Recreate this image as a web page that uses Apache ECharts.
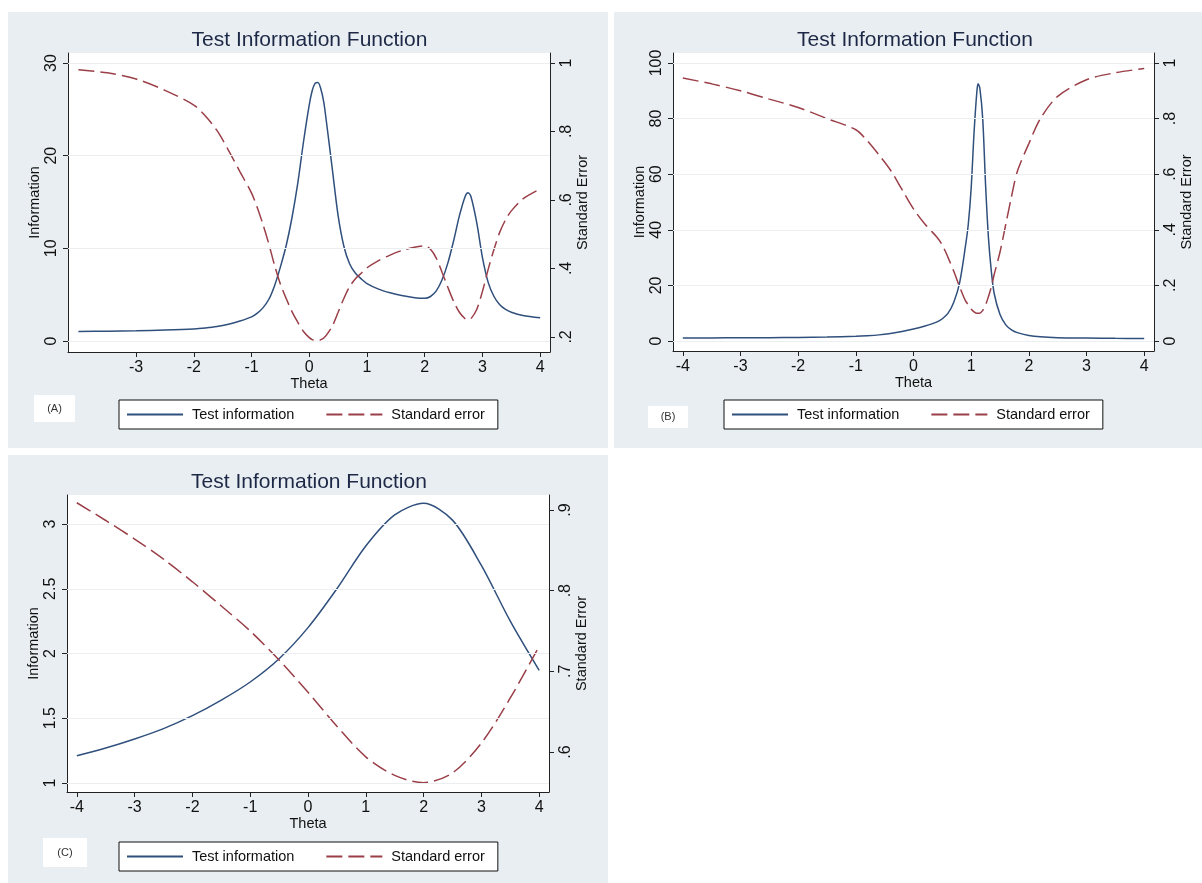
<!DOCTYPE html>
<html>
<head>
<meta charset="utf-8">
<script src="https://cdn.jsdelivr.net/npm/echarts@6/dist/echarts.min.js"></script>
<style>
html,body{margin:0;padding:0;background:#fff;}
#chart{width:1202px;height:883px;}
</style>
</head>
<body>
<div id="chart"></div>
<script>
// ---------- DATA ----------
const seriesNames = ['Test information', 'Standard error'];
const titleText = 'Test Information Function';
const panelLabels = ['(A)', '(B)', '(C)'];

// Panel A
const thetaA = [-4, -3.5, -3, -2.5, -2, -1.8, -1.6, -1.4, -1.2, -1.0, -0.9, -0.8, -0.7, -0.6, -0.5, -0.4, -0.3, -0.2, -0.1, 0, 0.05, 0.1, 0.15, 0.2, 0.25, 0.3, 0.4, 0.5, 0.6, 0.7, 0.8, 0.9, 1.0, 1.2, 1.4, 1.6, 1.8, 2.0, 2.1, 2.2, 2.3, 2.4, 2.5, 2.6, 2.7, 2.75, 2.8, 2.9, 3.0, 3.1, 3.2, 3.3, 3.4, 3.5, 3.7, 4.0];
const infoA = [1.03, 1.06, 1.1, 1.18, 1.3, 1.4, 1.55, 1.8, 2.15, 2.6, 3.0, 3.6, 4.5, 6.0, 8.0, 10.3, 13.3, 17.0, 21.5, 25.5, 27.0, 27.8, 27.9, 27.2, 25.8, 23.5, 18.5, 13.5, 10.2, 8.3, 7.3, 6.7, 6.2, 5.6, 5.2, 4.9, 4.7, 4.6, 4.8, 5.4, 6.6, 8.4, 10.8, 13.5, 15.6, 16.0, 15.6, 12.8, 9.0, 6.3, 4.8, 3.9, 3.4, 3.1, 2.75, 2.5];
const seA = [0.98, 0.971, 0.953, 0.92, 0.877, 0.845, 0.803, 0.745, 0.682, 0.62, 0.577, 0.527, 0.471, 0.408, 0.354, 0.312, 0.274, 0.243, 0.216, 0.198, 0.192, 0.19, 0.189, 0.192, 0.197, 0.206, 0.232, 0.272, 0.313, 0.347, 0.37, 0.386, 0.402, 0.423, 0.439, 0.452, 0.461, 0.466, 0.456, 0.43, 0.389, 0.345, 0.304, 0.272, 0.253, 0.25, 0.253, 0.28, 0.333, 0.398, 0.456, 0.506, 0.542, 0.568, 0.603, 0.632];

// Panel B
const thetaB = [-4, -3.5, -3, -2.5, -2, -1.5, -1.0, -0.8, -0.6, -0.4, -0.2, 0, 0.2, 0.4, 0.5, 0.6, 0.7, 0.8, 0.9, 0.95, 1.0, 1.05, 1.1, 1.12, 1.15, 1.2, 1.25, 1.3, 1.35, 1.4, 1.5, 1.6, 1.7, 1.8, 2.0, 2.2, 2.5, 3.0, 3.5, 4.0];
const infoB = [1.1, 1.12, 1.15, 1.2, 1.3, 1.45, 1.7, 1.9, 2.2, 2.7, 3.4, 4.3, 5.4, 6.8, 8.0, 10.0, 14.0, 21.0, 34.0, 42.0, 55.0, 75.0, 90.0, 92.5, 91.0, 80.0, 56.0, 37.0, 25.0, 17.0, 9.5, 5.8, 4.0, 3.0, 2.0, 1.5, 1.2, 1.05, 0.95, 0.9];
const seB = [0.946, 0.925, 0.90, 0.87, 0.84, 0.80, 0.76, 0.72, 0.67, 0.615, 0.545, 0.475, 0.42, 0.375, 0.345, 0.30, 0.25, 0.195, 0.145, 0.13, 0.115, 0.105, 0.10, 0.10, 0.10, 0.11, 0.13, 0.16, 0.195, 0.24, 0.32, 0.42, 0.52, 0.61, 0.71, 0.80, 0.88, 0.94, 0.965, 0.98];

// Panel C
const thetaC = [-4, -3.5, -3, -2.5, -2, -1.5, -1, -0.5, 0, 0.5, 1, 1.5, 2, 2.5, 3, 3.5, 4];
const infoC = [1.21, 1.27, 1.34, 1.42, 1.52, 1.64, 1.78, 1.96, 2.2, 2.5, 2.83, 3.07, 3.16, 3.03, 2.68, 2.25, 1.87];
const seC = [0.909, 0.887, 0.864, 0.839, 0.811, 0.781, 0.75, 0.714, 0.674, 0.632, 0.594, 0.571, 0.562, 0.574, 0.611, 0.667, 0.731];

// Tick values
const xTicksA = [-3, -2, -1, 0, 1, 2, 3, 4];
const xTicksB = [-4, -3, -2, -1, 0, 1, 2, 3, 4];
const xTicksC = [-4, -3, -2, -1, 0, 1, 2, 3, 4];
const leftTicksA = [0, 10, 20, 30];
const rightTicksA = [0.2, 0.4, 0.6, 0.8, 1];
const leftTicksB = [0, 20, 40, 60, 80, 100];
const rightTicksB = [0, 0.2, 0.4, 0.6, 0.8, 1];
const leftTicksC = [1, 1.5, 2, 2.5, 3];
const rightTicksC = [0.6, 0.7, 0.8, 0.9];

// ---------- STYLE ----------
const FONT = "'Liberation Sans', Arial, sans-serif";
const BLUE = '#2f4f7c';
const RED = '#9a3f48';
const AXIS = '#222';
const PANEL_BG = '#e8eef1';
const GRIDLINE = '#eceff1';
const TICK_SIZE = 16;
const NAME_SIZE = 14.5;

const panels = [
  {theta: thetaA, info: infoA, se: seA, xTicks: xTicksA, lT: leftTicksA, rT: rightTicksA,
   grid: {left: 68, top: 53, width: 482, height: 299},
   x: [-4.18, 4.17], yl: [-1.19, 31.08], yr: [0.156, 1.029],
   bg: [8, 12, 600, 436], title: [309.5, 40], lab: [34, 395, 41, 27], legend: {left: 119, top: 400}},
  {theta: thetaB, info: infoB, se: seB, xTicks: xTicksB, lT: leftTicksB, rT: rightTicksB,
   grid: {left: 673, top: 53, width: 481, height: 298},
   x: [-4.17, 4.17], yl: [-3.6, 103.6], yr: [-0.036, 1.036],
   bg: [614, 12, 588, 436], title: [915, 40], lab: [648, 406, 40, 22], legend: {left: 724, top: 400}},
  {theta: thetaC, info: infoC, se: seC, xTicks: xTicksC, lT: leftTicksC, rT: rightTicksC,
   grid: {left: 67, top: 495, width: 482, height: 297},
   x: [-4.17, 4.17], yl: [0.9305, 3.224], yr: [0.5504, 0.9186],
   bg: [8, 455, 600, 428], title: [309, 482], lab: [43, 838, 44, 29], legend: {left: 119, top: 842}}
];

function fmtRight(v) {
  if (v === 0) return '0';
  if (v === 1) return '1';
  return String(+v.toFixed(2)).replace(/^0/, '');
}

const option = {
  animation: false,
  backgroundColor: '#ffffff',
  grid: [], xAxis: [], yAxis: [], series: [], legend: [], graphic: []
};

panels.forEach((p, i) => {
  option.grid.push(Object.assign({show: true, backgroundColor: '#ffffff', borderWidth: 0, containLabel: false}, p.grid));
  option.xAxis.push({
    type: 'value', gridIndex: i, min: p.x[0], max: p.x[1],
    name: 'Theta', nameLocation: 'middle', nameGap: 24,
    nameTextStyle: {fontFamily: FONT, fontSize: NAME_SIZE, color: '#111'},
    axisLine: {show: true, onZero: false, lineStyle: {color: AXIS, width: 1}},
    axisTick: {show: true, length: 5, customValues: p.xTicks, lineStyle: {color: AXIS}},
    axisLabel: {customValues: p.xTicks, margin: 8, fontFamily: FONT, fontSize: TICK_SIZE, color: '#111'},
    splitLine: {show: false}
  });
  option.yAxis.push({
    type: 'value', gridIndex: i, position: 'left', min: p.yl[0], max: p.yl[1],
    name: 'Information', nameLocation: 'middle', nameGap: 26, nameRotate: 90,
    nameTextStyle: {fontFamily: FONT, fontSize: NAME_SIZE, color: '#111'},
    axisLine: {show: true, onZero: false, lineStyle: {color: AXIS, width: 1}},
    axisTick: {show: true, length: 5, customValues: p.lT, lineStyle: {color: AXIS}},
    axisLabel: {customValues: p.lT, rotate: 90, margin: 8, fontFamily: FONT, fontSize: TICK_SIZE, color: '#111'},
    splitLine: {show: false}
  });
  option.yAxis.push({
    type: 'value', gridIndex: i, position: 'right', min: p.yr[0], max: p.yr[1],
    name: 'Standard Error', nameLocation: 'middle', nameGap: 25, nameRotate: 90,
    nameTextStyle: {fontFamily: FONT, fontSize: NAME_SIZE, color: '#111'},
    axisLine: {show: true, onZero: false, lineStyle: {color: AXIS, width: 1}},
    axisTick: {show: true, length: 5, customValues: p.rT, lineStyle: {color: AXIS}},
    axisLabel: {customValues: p.rT, rotate: 90, margin: 9, fontFamily: FONT, fontSize: TICK_SIZE, color: '#111', formatter: fmtRight},
    splitLine: {show: false}
  });
  // grid lines (behind curves)
  option.series.push({
    type: 'line', xAxisIndex: i, yAxisIndex: 2 * i, data: [], z: 1, silent: true,
    markLine: {
      silent: true, symbol: ['none', 'none'], label: {show: false},
      lineStyle: {color: GRIDLINE, width: 1.2, type: 'solid'},
      data: p.lT.map(v => ({yAxis: v}))
    }
  });
  option.series.push({
    name: seriesNames[0], type: 'line', xAxisIndex: i, yAxisIndex: 2 * i,
    data: p.theta.map((t, k) => [t, p.info[k]]),
    showSymbol: false, symbol: 'none', smooth: 0.3, z: 3,
    lineStyle: {color: BLUE, width: 1.5}, itemStyle: {color: BLUE}
  });
  option.series.push({
    name: seriesNames[1], type: 'line', xAxisIndex: i, yAxisIndex: 2 * i + 1,
    data: p.theta.map((t, k) => [t, p.se[k]]),
    showSymbol: false, symbol: 'none', smooth: 0.3, z: 3,
    lineStyle: {color: RED, width: 1.5, type: [16, 6]}, itemStyle: {color: RED}
  });
  option.legend.push({
    left: p.legend.left, top: p.legend.top, orient: 'horizontal',
    data: seriesNames, selectedMode: false,
    backgroundColor: '#ffffff', borderColor: '#111', borderWidth: 1, borderRadius: 0,
    padding: [7, 13, 7, 7], itemGap: 31, itemWidth: 56, itemHeight: 14,
    itemStyle: {opacity: 0, borderWidth: 0},
    textStyle: {fontFamily: FONT, fontSize: NAME_SIZE, color: '#111', padding: [0, 0, 0, 4]}
  });
  // panel background
  option.graphic.push({type: 'rect', z: -10, silent: true,
    shape: {x: p.bg[0], y: p.bg[1], width: p.bg[2], height: p.bg[3]},
    style: {fill: PANEL_BG}});
  // title
  option.graphic.push({type: 'text', z: 10, silent: true, x: p.title[0], y: p.title[1],
    style: {text: titleText, fill: '#1d2846', font: "21px " + FONT, textAlign: 'center', textVerticalAlign: 'middle'}});
  // (A)/(B)/(C) label box
  option.graphic.push({type: 'rect', z: 5, silent: true,
    shape: {x: p.lab[0], y: p.lab[1], width: p.lab[2], height: p.lab[3]},
    style: {fill: '#ffffff'}});
  option.graphic.push({type: 'text', z: 10, silent: true, x: p.lab[0] + p.lab[2] / 2, y: p.lab[1] + p.lab[3] / 2,
    style: {text: panelLabels[i], fill: '#333', font: "11px " + FONT, textAlign: 'center', textVerticalAlign: 'middle'}});
});

const chart = echarts.init(document.getElementById('chart'), null, {renderer: 'canvas'});
chart.setOption(option);
</script>
</body>
</html>
